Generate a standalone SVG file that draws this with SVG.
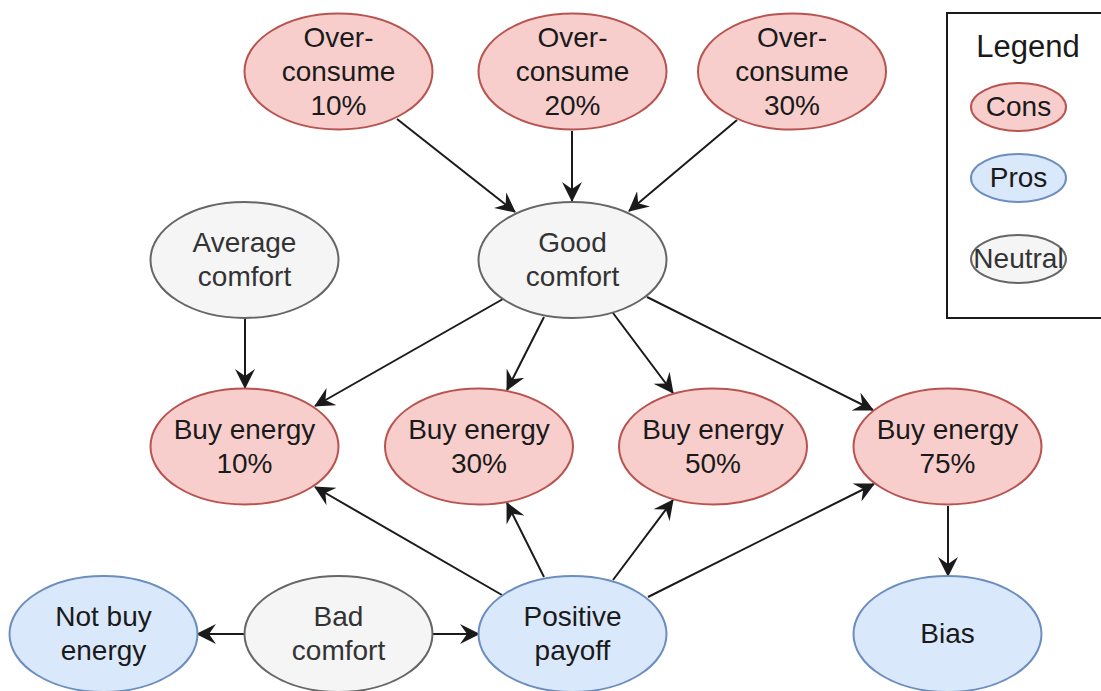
<svg xmlns="http://www.w3.org/2000/svg" width="1101" height="691" viewBox="0 0 1101 691">
<style>
  text { font-family: "Liberation Sans", Arial, Helvetica, sans-serif; font-size: 28px; text-anchor: middle; fill: #1a1a1a; }
  .cons { fill: #f8cecc; stroke: #b85450; stroke-width: 2; }
  .pros { fill: #dae8fc; stroke: #6c8ebf; stroke-width: 2; }
  .neut { fill: #f5f5f5; stroke: #666666; stroke-width: 2; }
  text.nt { fill: #333333; }
  .edge { stroke: #1a1a1a; stroke-width: 2; fill: none; marker-end: url(#arr); }
</style>
<defs>
  <marker id="arr" viewBox="0 0 20 20" refX="19" refY="10" markerWidth="20" markerHeight="20" markerUnits="userSpaceOnUse" orient="auto">
    <path d="M0,0 L20,10 L0,20 L7,10 z" fill="#1a1a1a"/>
  </marker>
</defs>
<rect width="1101" height="691" fill="#ffffff"/>

<g id="legend">
  <rect x="947" y="13" width="200" height="305" fill="#ffffff" stroke="#1a1a1a" stroke-width="2"/>
  <text x="1028" y="57" style="font-size:31px">Legend</text>
  <ellipse class="cons" cx="1018.5" cy="107" rx="47.5" ry="24"/>
  <text x="1018.5" y="116">Cons</text>
  <ellipse class="pros" cx="1018.5" cy="178" rx="47.5" ry="24"/>
  <text x="1018.5" y="187">Pros</text>
  <ellipse class="neut" cx="1018.5" cy="259" rx="47.5" ry="24"/>
  <text class="nt" x="1018.5" y="268">Neutral</text>
</g>

<g id="connectors">
  <line class="edge" x1="397" y1="119" x2="515" y2="212"/>
  <line class="edge" x1="572" y1="131" x2="572" y2="201"/>
  <line class="edge" x1="737" y1="120" x2="629" y2="211"/>
  <line class="edge" x1="245" y1="318" x2="245" y2="388"/>
  <line class="edge" x1="503" y1="299" x2="315" y2="406"/>
  <line class="edge" x1="544" y1="317" x2="507" y2="390"/>
  <line class="edge" x1="613" y1="313" x2="673" y2="393"/>
  <line class="edge" x1="647" y1="297" x2="873" y2="410"/>
  <line class="edge" x1="502" y1="595" x2="315" y2="487"/>
  <line class="edge" x1="544" y1="577" x2="507" y2="503"/>
  <line class="edge" x1="613" y1="580" x2="673" y2="500"/>
  <line class="edge" x1="648" y1="597" x2="874" y2="484"/>
  <line class="edge" x1="948" y1="506" x2="948" y2="576"/>
  <line class="edge" x1="245" y1="634" x2="197" y2="634"/>
  <line class="edge" x1="432" y1="634" x2="479" y2="634"/>
</g>

<g id="overconsume10">
  <ellipse class="cons" cx="338.5" cy="71.5" rx="94" ry="58"/>
  <text x="338.5" y="47">Over-</text>
  <text x="338.5" y="81">consume</text>
  <text x="338.5" y="115">10%</text>
</g>
<g id="overconsume20">
  <ellipse class="cons" cx="572.5" cy="71.5" rx="94" ry="58"/>
  <text x="572.5" y="47">Over-</text>
  <text x="572.5" y="81">consume</text>
  <text x="572.5" y="115">20%</text>
</g>
<g id="overconsume30">
  <ellipse class="cons" cx="792" cy="71.5" rx="94" ry="58"/>
  <text x="792" y="47">Over-</text>
  <text x="792" y="81">consume</text>
  <text x="792" y="115">30%</text>
</g>

<g id="averagecomfort">
  <ellipse class="neut" cx="244.5" cy="260" rx="94" ry="58"/>
  <text class="nt" x="244.5" y="252">Average</text>
  <text class="nt" x="244.5" y="286">comfort</text>
</g>
<g id="goodcomfort">
  <ellipse class="neut" cx="572.5" cy="260" rx="94" ry="58"/>
  <text class="nt" x="572.5" y="252">Good</text>
  <text class="nt" x="572.5" y="286">comfort</text>
</g>

<g id="buy10">
  <ellipse class="cons" cx="244.5" cy="446.5" rx="94" ry="58"/>
  <text x="244.5" y="439">Buy energy</text>
  <text x="244.5" y="473">10%</text>
</g>
<g id="buy30">
  <ellipse class="cons" cx="479" cy="446.5" rx="94" ry="58"/>
  <text x="479" y="439">Buy energy</text>
  <text x="479" y="473">30%</text>
</g>
<g id="buy50">
  <ellipse class="cons" cx="713" cy="446.5" rx="94" ry="58"/>
  <text x="713" y="439">Buy energy</text>
  <text x="713" y="473">50%</text>
</g>
<g id="buy75">
  <ellipse class="cons" cx="947.5" cy="446.5" rx="94" ry="58"/>
  <text x="947.5" y="439">Buy energy</text>
  <text x="947.5" y="473">75%</text>
</g>

<g id="notbuy">
  <ellipse class="pros" cx="103.5" cy="634" rx="94" ry="58"/>
  <text x="103.5" y="626">Not buy</text>
  <text x="103.5" y="660">energy</text>
</g>
<g id="badcomfort">
  <ellipse class="neut" cx="338.5" cy="634" rx="94" ry="58"/>
  <text class="nt" x="338.5" y="626">Bad</text>
  <text class="nt" x="338.5" y="660">comfort</text>
</g>
<g id="positivepayoff">
  <ellipse class="pros" cx="572.5" cy="634" rx="94" ry="58"/>
  <text x="572.5" y="626">Positive</text>
  <text x="572.5" y="660">payoff</text>
</g>
<g id="bias">
  <ellipse class="pros" cx="947.5" cy="634" rx="94" ry="58"/>
  <text x="947.5" y="643">Bias</text>
</g>
</svg>
